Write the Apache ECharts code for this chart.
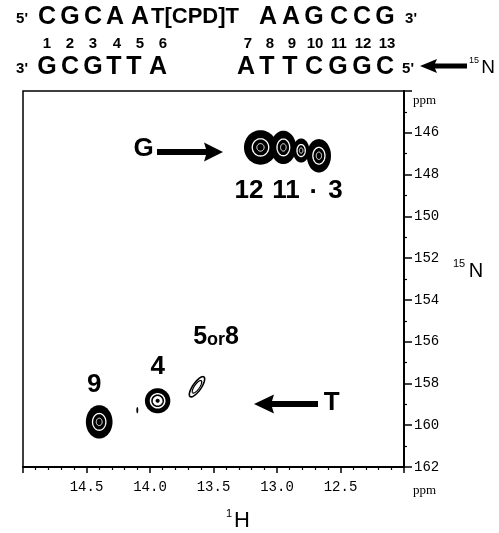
<!DOCTYPE html>
<html>
<head>
<meta charset="utf-8">
<script src="https://cdn.jsdelivr.net/npm/echarts@6/dist/echarts.min.js"></script>
<style>
html, body { margin: 0; padding: 0; background: #fff; }
#chart { width: 499px; height: 533px; }
</style>
</head>
<body>
<div id="chart"></div>
<script>
// imino cross peaks (1H / 15N in ppm) and their contour footprint
var peakH = [13.13, 12.95, 12.81, 12.67, 14.40, 14.10, 13.94, 13.63];
var peakN = [146.70, 146.70, 146.85, 147.10, 159.84, 159.28, 158.83, 158.16];
var peakWidthH = [0.26, 0.20, 0.13, 0.19, 0.21, 0.015, 0.20, 0.065];
var peakWidthN = [1.65, 1.6, 1.15, 1.6, 1.6, 0.3, 1.2, 1.15];
var peakTilt = [0, 0, 0, 0, 0, 0, 0, 35];
var peakKind = ['solid', 'solid', 'solid', 'solid', 'solid', 'dot', 'ring', 'open'];

// assignment labels
var labelText = ['12', '11', '·', '3', '9', '4', '5or8', 'G', 'T'];
var labelH = [13.22, 12.93, 12.71, 12.54, 14.44, 13.94, 13.48, 14.05, 12.57];
var labelN = [148.79, 148.79, 148.88, 148.79, 158.07, 157.21, 155.78, 146.78, 158.94];

// tick labels
var xTickLabels = [14.5, 14.0, 13.5, 13.0, 12.5];
var yTickLabels = [146, 148, 150, 152, 154, 156, 158, 160, 162];

var chart = echarts.init(document.getElementById('chart'));

function ellipsePts(cx, cy, rx, ry, rot) {
  var pts = [];
  var c = Math.cos(rot), s = Math.sin(rot);
  for (var i = 0; i < 60; i++) {
    var t = i / 60 * Math.PI * 2;
    var x = rx * Math.cos(t), y = ry * Math.sin(t);
    pts.push([cx + x * c - y * s, cy + x * s + y * c]);
  }
  return pts;
}

// contour rings: [scale, fill, stroke, lineWidth]
var kinds = {
  solid: [[1, '#000'], [0.5, null, '#fff', 1.3], [0.22, null, '#fff', 1]],
  dot: [[1, '#000']],
  ring: [[1, '#000'], [0.62, '#fff'], [0.44, null, '#000', 1.6], [0.16, '#000']],
  open: [[1, null, '#000', 1.6], [0.62, null, '#000', 1.2]]
};

function renderPeak(params, api) {
  var i = params.dataIndex;
  var c = api.coord([api.value(0), api.value(1)]);
  var sz = api.size([api.value(2), api.value(3)]);
  var rx = Math.abs(sz[0]) / 2, ry = Math.abs(sz[1]) / 2;
  var rot = api.value(4) * Math.PI / 180;
  var children = kinds[peakKind[i]].map(function (k) {
    return {
      type: 'polygon',
      shape: { points: ellipsePts(c[0], c[1], rx * k[0], ry * k[0], rot) },
      style: { fill: k[1] || 'none', stroke: k[2] || null, lineWidth: k[3] || 0 }
    };
  });
  return { type: 'group', children: children };
}

var peakData = peakH.map(function (h, i) {
  return [h, peakN[i], peakWidthH[i], peakWidthN[i], peakTilt[i]];
});

var labelData = labelText.map(function (t, i) {
  var txt = t === '5or8' ? '{a|5}{b|or}{a|8}' : t;
  return { value: [labelH[i], labelN[i]], label: { formatter: txt } };
});

var bold = 'Liberation Sans';

function txt(x, y, s, size, weight, family, align) {
  return {
    type: 'text', x: x, y: y,
    style: {
      text: s, fill: '#000', font: (weight || 'bold') + ' ' + size + 'px ' + (family || bold),
      textAlign: align || 'center', textVerticalAlign: 'middle'
    }
  };
}

function arrowLeft(tip, tail, y, head, headH, th) {
  return {
    type: 'polygon',
    shape: { points: [[tip, y], [tip + head, y - headH / 2], [tip + head - 2, y - th / 2], [tail, y - th / 2],
      [tail, y + th / 2], [tip + head - 2, y + th / 2], [tip + head, y + headH / 2]] },
    style: { fill: '#000' }
  };
}
function arrowRight(tail, tip, y, head, headH, th) {
  return {
    type: 'polygon',
    shape: { points: [[tip, y], [tip - head, y - headH / 2], [tip - head + 2, y - th / 2], [tail, y - th / 2],
      [tail, y + th / 2], [tip - head + 2, y + th / 2], [tip - head, y + headH / 2]] },
    style: { fill: '#000' }
  };
}

var graphics = [];
// sequence header
var topStrand = [['C', 47], ['G', 70], ['C', 93], ['A', 115], ['A', 140], ['A', 268], ['A', 291],
  ['G', 314], ['C', 339], ['C', 362], ['G', 385]];
topStrand.forEach(function (p) { graphics.push(txt(p[1], 17, p[0], 25)); });
graphics.push(txt(195, 17, 'T[CPD]T', 22));
graphics.push(txt(22, 19, "5'", 15));
graphics.push(txt(411, 19, "3'", 15));
var nums = [['1', 47], ['2', 70], ['3', 93], ['4', 117], ['5', 140], ['6', 163], ['7', 248], ['8', 270], ['9', 292],
  ['10', 315], ['11', 339], ['12', 363], ['13', 387]];
nums.forEach(function (p) { graphics.push(txt(p[1], 44, p[0], 15)); });
var bottomStrand = [['G', 47], ['C', 70], ['G', 93], ['T', 114], ['T', 134], ['A', 158], ['A', 246], ['T', 267], ['T', 290],
  ['C', 314], ['G', 338], ['G', 362], ['C', 385]];
bottomStrand.forEach(function (p) { graphics.push(txt(p[1], 67, p[0], 25)); });
graphics.push(txt(22, 69, "3'", 15));
graphics.push(txt(408, 69, "5'", 15));
graphics.push(arrowLeft(420, 467, 66, 17, 14, 5));
graphics.push(txt(474, 61, '15', 9, 'normal'));
graphics.push(txt(488, 68, 'N', 19, 'normal', bold, 'center'));
// annotation arrows
graphics.push(arrowRight(157, 223, 152, 19, 19, 6));
graphics.push(arrowLeft(254, 318, 404, 20, 19, 6));
// axis names
graphics.push(txt(413, 101, 'ppm', 13, 'normal', 'Liberation Serif', 'left'));
graphics.push(txt(413, 491, 'ppm', 13, 'normal', 'Liberation Serif', 'left'));
graphics.push(txt(459, 264, '15', 11, 'normal'));
graphics.push(txt(476, 271, 'N', 20, 'normal'));
graphics.push(txt(229, 514, '1', 11, 'normal'));
graphics.push(txt(242, 521, 'H', 22, 'normal'));

var monoFont = { color: '#000', fontFamily: 'Liberation Mono', fontSize: 14 };

chart.setOption({
  animation: false,
  backgroundColor: '#fff',
  grid: { left: 23, right: 95, top: 91, bottom: 66, show: true, borderColor: '#000', borderWidth: 1.5 },
  xAxis: {
    type: 'value', min: 12, max: 15, interval: 0.5, inverse: true,
    axisLine: { lineStyle: { color: '#000', width: 2 } },
    axisTick: { length: 6, lineStyle: { color: '#000', width: 1.5 } },
    minorTick: { show: true, splitNumber: 5, length: 3, lineStyle: { color: '#000', width: 1.2 } },
    splitLine: { show: false },
    axisLabel: Object.assign({
      margin: 13,
      formatter: function (v) {
        return xTickLabels.some(function (t) { return Math.abs(t - v) < 1e-6; }) ? v.toFixed(1) : '';
      }
    }, monoFont)
  },
  yAxis: {
    type: 'value', min: 144, max: 162, interval: 2, inverse: true, position: 'right',
    axisLine: { lineStyle: { color: '#000', width: 2 } },
    axisTick: { length: 8, lineStyle: { color: '#000', width: 1.5 } },
    minorTick: { show: true, splitNumber: 2, length: 3, lineStyle: { color: '#000', width: 1.2 } },
    splitLine: { show: false },
    axisLabel: Object.assign({
      margin: 10,
      formatter: function (v) { return yTickLabels.indexOf(v) >= 0 ? String(v) : ''; }
    }, monoFont)
  },
  graphic: graphics,
  series: [
    {
      type: 'custom',
      renderItem: renderPeak,
      data: peakData,
      clip: true
    },
    {
      type: 'scatter',
      symbolSize: 0,
      itemStyle: { opacity: 1 },
      data: labelData,
      label: {
        show: true, position: 'inside', color: '#000', fontFamily: bold, fontWeight: 'bold', fontSize: 26,
        rich: {
          a: { fontFamily: bold, fontWeight: 'bold', fontSize: 25, color: '#000' },
          b: { fontFamily: bold, fontWeight: 'bold', fontSize: 18, color: '#000', padding: [6, 0, 0, 0] }
        }
      }
    }
  ]
});
</script>
</body>
</html>
